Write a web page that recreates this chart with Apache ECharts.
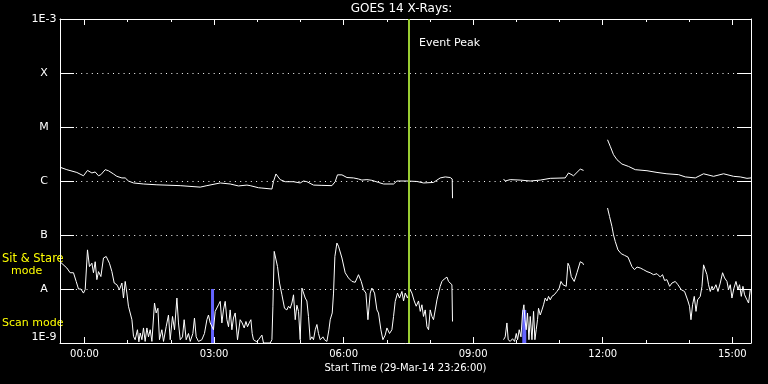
<!DOCTYPE html>
<html><head><meta charset="utf-8">
<script src="https://cdn.jsdelivr.net/npm/echarts@6/dist/echarts.min.js"></script>
<style>html,body{margin:0;padding:0;background:#000}#c{width:768px;height:384px}</style>
</head><body><div id="c"></div><script>
// ---- data (time in minutes after 00:00 30-Mar-14; flux in W/m^2) ----
const chartTitle = 'GOES 14 X-Rays:';
const xTitle = 'Start Time (29-Mar-14 23:26:00)';
const xMin = -34, xMax = 926;
const majorTicks = [0, 180, 360, 540, 720, 900];
const minorTicks = [0, 60, 120, 180, 240, 300, 360, 420, 480, 540, 600, 660, 720, 780, 840, 900];
const yTickExp = [-9, -8, -7, -6, -5, -4, -3];
const yTickLabels = ['1E-9', 'A', 'B', 'C', 'M', 'X', '1E-3'];
const eventPeakTime = 451;
const eventPeakLabel = 'Event Peak';
const modeLabels = ['Sit & Stare', 'mode', 'Scan mode'];

// long channel (1-8 A)
const longChannel = [
[-34,1.8e-6],[-24.5,1.62e-6],[-10.6,1.44e-6],[-1.4,1.25e-6],[4.2,1.57e-6],[10.3,1.41e-6],[14.9,1.47e-6],[19.5,1.25e-6],
[22.8,1.31e-6],[28.8,1.62e-6],[33.3,1.55e-6],[40.3,1.35e-6],[45,1.22e-6],[52,1.14e-6],[56.6,1.14e-6],[61.1,1.0e-6],
[68.1,0.92e-6],[82,0.88e-6],[100.6,0.85e-6],[133,0.82e-6],[160.8,0.77e-6],[170.1,0.82e-6],[188.6,0.92e-6],[202.4,0.88e-6],
[214,0.81e-6],[225.7,0.84e-6],[230.2,0.82e-6],[241.8,0.75e-6],[246.5,0.74e-6],[260.4,0.71e-6],[262.6,0.98e-6],[266,1.35e-6],
[271.9,1.06e-6],[278.9,0.97e-6],[290.4,0.97e-6],[299.7,0.92e-6],[304.3,1.0e-6],[309,0.97e-6],[318.2,0.84e-6],[329.9,0.83e-6],
[343.8,0.82e-6],[348.3,0.97e-6],[351.5,1.3e-6],[357.7,1.3e-6],[364.6,1.16e-6],[373.8,1.14e-6],[380.7,1.09e-6],[385.4,1.04e-6],
[392.4,1.06e-6],[399.3,1.03e-6],[408.5,0.94e-6],[415.5,0.88e-6],[429.4,0.88e-6],[434.1,1.0e-6],[448,1.0e-6],[461.9,0.98e-6],
[471,0.92e-6],[484.9,0.94e-6],[494.2,1.14e-6],[501.2,1.19e-6],[508.1,1.16e-6],[510.9,1.09e-6],[511.3,0.48e-6],
[545,null],
[582.2,1.09e-6],[584.5,1.0e-6],[591.5,1.06e-6],[605.4,1.04e-6],[619.3,1.0e-6],[633.2,1.04e-6],[647.1,1.12e-6],[667.9,1.14e-6],
[672.5,1.41e-6],[679.5,1.25e-6],[688.8,1.66e-6],[693.4,1.57e-6],
[710,null],
[726.7,5.8e-6],[730.4,4.4e-6],[735,3.07e-6],[739.8,2.48e-6],[746.7,2.06e-6],[755.9,1.86e-6],[765.2,1.62e-6],[781.5,1.55e-6],
[795.4,1.44e-6],[809.2,1.36e-6],[825.4,1.31e-6],[834.7,1.19e-6],[848.6,1.14e-6],[860.1,1.36e-6],[874,1.22e-6],[887.9,1.36e-6],
[901.8,1.22e-6],[911.1,1.19e-6],[920.4,1.12e-6],[926,1.14e-6]
];

// short channel (0.5-4 A)
const shortChannel = [
[-34,3.2e-8],[-24.5,2.45e-8],[-19.9,2.0e-8],[-15.3,2.0e-8],[-11.5,1.38e-8],[-8.3,1.0e-8],[-5,1.0e-8],[-1.4,0.84e-8],
[1,0.98e-8],[4.2,5.3e-8],[6.9,2.6e-8],[10.3,3.0e-8],[12.5,2.0e-8],[14.9,3.2e-8],[17.2,1.49e-8],[19.5,2.1e-8],
[22.8,1.7e-8],[26.4,3.75e-8],[30.2,4.0e-8],[34.7,3.0e-8],[38.1,2.1e-8],[41.3,1.29e-8],[45,1.2e-8],[48.6,0.97e-8],
[52,1.29e-8],[54.2,0.68e-8],[56.6,1.38e-8],[58.9,0.84e-8],[61.1,0.48e-8],[63.5,0.51e-8],[65.9,2.7e-9],[68.1,1.33e-9],
[70.4,1.15e-9],[73.6,1.76e-9],[75.6,1.05e-9],[77.4,1.53e-9],[79.8,1.15e-9],[82,1.9e-9],[84.3,1.07e-9],[86.7,1.9e-9],
[88.9,1.3e-9],[91.3,1.76e-9],[93.7,1.07e-9],[97.3,5.5e-9],[99.6,3.6e-9],[102,4.4e-9],[104.2,1.15e-9],[107.5,1.76e-9],
[109.8,1.07e-9],[113.5,2.0e-9],[116.7,3.3e-9],[119.1,1.15e-9],[122.3,3.1e-9],[125.1,1.76e-9],[128.4,6.8e-9],[130.6,2.35e-9],
[133,1.15e-9],[136.2,1.3e-9],[138.5,2.7e-9],[141.3,1.15e-9],[144.5,1.5e-9],[146.9,1.07e-9],[150.6,1.5e-9],[152.8,2.9e-9],
[155.2,1.3e-9],[158.4,1.07e-9],[163.1,1.15e-9],[166.7,1.5e-9],[170.1,2.7e-9],[172.3,3.3e-9],[174.7,2.35e-9],[177,2.5e-9],
[179.2,1.76e-9],[181.6,3.85e-9],[184,4.1e-9],[186.2,5.1e-9],[188.6,5.9e-9],[190.9,2.35e-9],[193.1,4.1e-9],[195.5,5.9e-9],
[197.9,2.7e-9],[200.1,2.0e-9],[202.4,4.1e-9],[204.8,1.76e-9],[207,2.9e-9],[209.4,3.6e-9],[212.6,1.15e-9],[216.3,2.7e-9],
[219.1,2.35e-9],[221.9,1.9e-9],[224.3,2.5e-9],[226.5,2.0e-9],[228.8,2.35e-9],[231.2,2.7e-9],[233,1.5e-9],[234.8,1.15e-9],
[239.5,1.05e-9],[241.8,1.15e-9],[246.5,1.4e-9],[248.7,1.0e-9],[258,1.0e-9],[260.4,1.15e-9],[261.8,4.8e-9],[263.6,4.97e-8],
[266,4.6e-8],[268.2,2.6e-8],[271,1.29e-8],[274.3,0.78e-8],[277.9,0.44e-8],[281.2,0.41e-8],[283.5,0.48e-8],[285.8,0.44e-8],
[288.2,0.55e-8],[290.4,0.78e-8],[292.8,2.7e-9],[295.1,0.5e-8],[297.4,3.85e-9],[299.7,1.15e-9],[302.1,1.04e-8],[304.3,1.07e-8],
[306.7,0.68e-8],[309,0.6e-8],[311.2,3.1e-9],[313.6,1.15e-9],[316,1.3e-9],[318.2,1.15e-9],[320.6,1.76e-9],[322.9,2.2e-9],
[325.1,1.5e-9],[327.5,1.15e-9],[331.3,1.3e-9],[333.5,1.15e-9],[336.8,1.07e-9],[339.6,1.76e-9],[341.4,2.7e-9],[344.2,3.6e-9],
[346,0.84e-8],[347.9,4.0e-8],[350.7,7.1e-8],[352.9,6.2e-8],[357.7,3.75e-8],[362.2,2.0e-8],[366.8,1.6e-8],[371.6,1.38e-8],
[376.1,1.33e-8],[380.7,1.84e-8],[384.5,1.38e-8],[387.7,0.97e-8],[391,0.84e-8],[393.8,2.7e-9],[397,0.84e-8],[399.3,1.04e-8],
[403,0.84e-8],[406.3,0.41e-8],[408.5,3.6e-9],[411.8,1.76e-9],[414.6,1.15e-9],[417.8,1.4e-9],[420.2,1.9e-9],[423.8,1.5e-9],
[427.1,1.76e-9],[429.4,3.1e-9],[431.7,5.9e-9],[434.9,0.84e-8],[437.7,0.68e-8],[441,0.9e-8],[443.3,0.6e-8],[445.6,0.84e-8],
[448.8,0.68e-8],[452.6,0.97e-8],[454.9,0.84e-8],[458.1,0.6e-8],[460.9,0.48e-8],[464.1,0.6e-8],[466.5,3.85e-9],[468.8,0.51e-8],
[471,3.1e-9],[473.4,4.1e-9],[475.8,2.0e-9],[478,1.76e-9],[480.3,4.1e-9],[482.7,3.1e-9],[484.9,2.7e-9],[487.3,4.1e-9],
[489.7,0.63e-8],[491.9,0.84e-8],[494.2,1.12e-8],[496.6,1.38e-8],[499.8,1.53e-8],[503.6,1.66e-8],[505.8,1.38e-8],[508.1,1.29e-8],
[510.5,1.2e-8],[511.3,2.5e-9],
[545,null],
[582.2,1.15e-9],[584.5,1.3e-9],[586.9,2.35e-9],[588.7,1.15e-9],[591.5,1.07e-9],[594.7,1.2e-9],[597.5,1.07e-9],[599.9,1.5e-9],
[601.7,1.15e-9],[604,1.76e-9],[606.4,1.3e-9],[608.6,3.6e-9],[610.5,5.1e-9],[611.9,2.7e-9],[613.7,1.76e-9],[615.5,3.6e-9],
[617.5,1.15e-9],[619.3,3.1e-9],[621.7,1.15e-9],[623.9,3.85e-9],[625.8,1.15e-9],[627.6,1.76e-9],[629.4,2.7e-9],[630.8,4.4e-9],
[633.2,3.3e-9],[635.6,4.1e-9],[637.8,5.1e-9],[640.1,0.68e-8],[642.5,0.6e-8],[644.7,0.73e-8],[647.1,0.63e-8],[649.4,0.73e-8],
[652.6,0.78e-8],[656.4,0.9e-8],[659.6,1.04e-8],[662,1.38e-8],[664.7,1.2e-8],[667,1.29e-8],[669.3,1.12e-8],[671.7,3.0e-8],
[673.9,2.6e-8],[676.3,1.7e-8],[678.6,1.6e-8],[680.4,1.38e-8],[684.2,2.0e-8],[688.8,3.2e-8],[692.5,3.0e-8],[693.4,2.8e-8],
[710,null],
[726.7,3.16e-7],[729.5,2.2e-7],[732.8,1.44e-7],[735,1.0e-7],[737.4,0.76e-7],[741.2,0.53e-7],[745.7,0.45e-7],[750.3,0.42e-7],
[755.1,0.39e-7],[760.6,2.6e-8],[764.2,2.28e-8],[767.6,2.55e-8],[772.1,2.45e-8],[776.7,2.28e-8],[781.5,2.1e-8],[786,2.0e-8],
[790.6,1.84e-8],[795.4,1.92e-8],[799.9,1.67e-8],[803.1,1.84e-8],[805.9,1.44e-8],[809.2,1.49e-8],[812.9,1.12e-8],[816.2,1.29e-8],
[820.8,1.38e-8],[824.5,1.2e-8],[829.1,0.97e-8],[833.7,0.9e-8],[838.4,0.6e-8],[840.6,0.48e-8],[842.6,2.7e-9],[844.8,0.51e-8],
[847.2,0.73e-8],[849.6,3.85e-9],[851.8,0.63e-8],[855.5,0.73e-8],[857.9,1.12e-8],[860.1,2.8e-8],[862.5,2.9e-8],[864.8,1.84e-8],
[867,1.2e-8],[869.4,0.9e-8],[871.8,1.12e-8],[874,0.97e-8],[877.3,1.2e-8],[880.1,0.9e-8],[883.3,1.29e-8],[886.5,2.0e-8],
[889.3,1.6e-8],[892.6,1.38e-8],[894.8,0.97e-8],[897.2,1.2e-8],[899.5,0.68e-8],[902.3,1.04e-8],[905.1,1.38e-8],[907.9,0.97e-8],
[910.1,1.2e-8],[912.5,0.73e-8],[914.8,1.12e-8],[917.1,0.78e-8],[920.4,0.63e-8],[922.6,0.55e-8],[925,0.97e-8]
];

// scan-mode markers (blue bars)
const scanTimes = [177.9, 611];
const scanTop = [1e-8, 4.1e-9];
const scanBottom = 1e-9;

// ---- chart ----
const FONT = 'DejaVu Sans';
const WHITE = '#ffffff';
const chart = echarts.init(document.getElementById('c'), null, {renderer: 'canvas'});
const gridRect = {left: 60, top: 19, width: 691, height: 324};
const toData = arr => arr.map(p => [p[0], p[1] == null ? '-' : p[1]]);
const fmtHour = v => String(Math.round(v / 60)).padStart(2, '0') + ':00';
const fmtY = v => {
  const e = Math.round(Math.log10(v));
  const i = yTickExp.indexOf(e);
  return i >= 0 ? yTickLabels[i] : '';
};
const xBase = {type: 'value', min: xMin, max: xMax, splitLine: {show: false},
  axisLine: {show: true, onZero: false, lineStyle: {color: WHITE, width: 1}}, axisLabel: {show: false}};
const tick = (vals, len) => ({show: true, inside: true, length: len, customValues: vals, lineStyle: {color: WHITE, width: 1}});
const yBase = {type: 'log', logBase: 10, min: 1e-9, max: 1e-3, interval: 1, splitNumber: 6,
  axisLine: {show: true, onZero: false, lineStyle: {color: WHITE, width: 1}},
  axisTick: {show: true, inside: true, length: 14, lineStyle: {color: WHITE, width: 1}},
  minorTick: {show: false}, minorSplitLine: {show: false}};

const scanSeries = scanTimes.map((t, i) => ({
  type: 'line', xAxisIndex: 0, yAxisIndex: 0, symbol: 'none', silent: true, z: 1,
  data: [[t, scanBottom], [t, scanTop[i]]],
  lineStyle: {color: '#6464ff', width: i === 0 ? 3 : 4}
}));

chart.setOption({
  backgroundColor: '#000000',
  animation: false,
  grid: [Object.assign({}, gridRect), Object.assign({}, gridRect)],
  xAxis: [
    Object.assign({}, xBase, {gridIndex: 0, position: 'bottom',
      axisTick: tick(majorTicks, 6),
      axisLabel: {show: true, customValues: majorTicks, formatter: fmtHour, color: WHITE, fontSize: 10, fontFamily: FONT, margin: 6},
      name: xTitle, nameLocation: 'middle', nameGap: 18,
      nameTextStyle: {color: WHITE, fontSize: 10, fontFamily: FONT, verticalAlign: 'top'}}),
    Object.assign({}, xBase, {gridIndex: 0, position: 'top', axisTick: tick(majorTicks, 6)}),
    Object.assign({}, xBase, {gridIndex: 1, position: 'bottom', axisLine: {show: false}, axisTick: tick(minorTicks, 3)}),
    Object.assign({}, xBase, {gridIndex: 1, position: 'top', axisLine: {show: false}, axisTick: tick(minorTicks, 3)})
  ],
  yAxis: [
    Object.assign({}, yBase, {gridIndex: 0, position: 'left',
      axisLabel: {show: true, formatter: fmtY, color: WHITE, fontSize: 11, fontFamily: FONT, align: 'center', margin: 16,
        verticalAlignMinLabel: 'bottom', verticalAlignMaxLabel: 'top'},
      splitLine: {show: true, lineStyle: {color: WHITE, width: 1, type: [1, 4.3]}}}),
    Object.assign({}, yBase, {gridIndex: 0, position: 'right', axisLabel: {show: false}, splitLine: {show: false}}),
    {type: 'value', gridIndex: 1, show: false, min: 0, max: 1}
  ],
  series: scanSeries.concat([
    {type: 'line', name: 'short', xAxisIndex: 0, yAxisIndex: 0, symbol: 'none', connectNulls: false, z: 3,
      data: toData(shortChannel), lineStyle: {color: WHITE, width: 1}},
    {type: 'line', name: 'long', xAxisIndex: 0, yAxisIndex: 0, symbol: 'none', connectNulls: false, z: 3,
      data: toData(longChannel), lineStyle: {color: WHITE, width: 1},
      markLine: {silent: true, symbol: 'none', animation: false, z: 5,
        label: {show: false},
        lineStyle: {color: '#9acd32', width: 2, type: 'solid'},
        data: [{xAxis: eventPeakTime}]}}
  ])
});

const peakPx = chart.convertToPixel({xAxisIndex: 0, yAxisIndex: 0}, [eventPeakTime, 1e-3]);
chart.setOption({
  graphic: [
    {type: 'text', x: gridRect.left + gridRect.width / 2 - 4, y: 3, style: {text: chartTitle, fill: WHITE, font: '12px "' + FONT + '"', align: 'center', verticalAlign: 'top'}},
    {type: 'text', x: peakPx[0] + 10, y: peakPx[1] + 24, style: {text: eventPeakLabel, fill: WHITE, font: '11px "' + FONT + '"', align: 'left', verticalAlign: 'middle'}},
    {type: 'text', x: 2, y: 259, style: {text: modeLabels[0], fill: '#ffff00', font: '11.5px "' + FONT + '"', align: 'left', verticalAlign: 'middle'}},
    {type: 'text', x: 11, y: 271, style: {text: modeLabels[1], fill: '#ffff00', font: '11px "' + FONT + '"', align: 'left', verticalAlign: 'middle'}},
    {type: 'text', x: 2, y: 323, style: {text: modeLabels[2], fill: '#ffff00', font: '11px "' + FONT + '"', align: 'left', verticalAlign: 'middle'}}
  ]
});
</script></body></html>
